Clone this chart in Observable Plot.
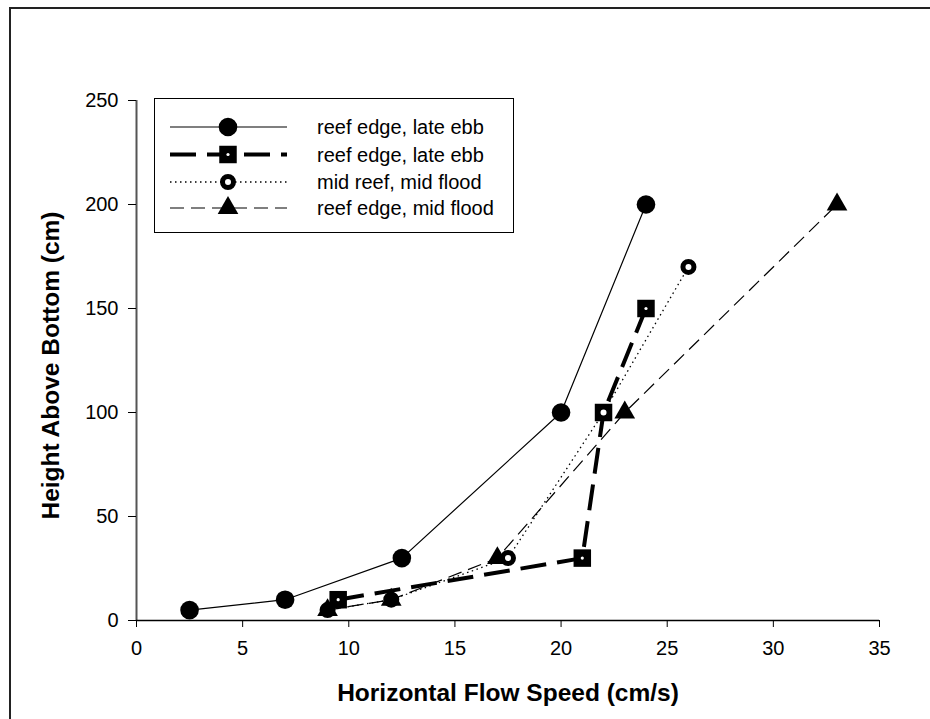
<!DOCTYPE html>
<html><head><meta charset="utf-8">
<script src="https://cdn.jsdelivr.net/npm/d3@7"></script>
<script src="https://cdn.jsdelivr.net/npm/@observablehq/plot@0.6"></script>
<style>
html,body{margin:0;padding:0;background:#fff;overflow:hidden}
#wrap{position:relative;width:930px;height:719px;font-family:"Liberation Sans",Arial,sans-serif}
#frame{position:absolute;left:9px;top:7px;width:1000px;height:1000px;border-left:2px solid #222;border-top:2px solid #222;pointer-events:none}
#legend{position:absolute;left:154px;top:98px}
</style></head><body><div id="wrap"><div id="frame"></div></div>
<script>
// ---- data ----
const xTicks = [0, 5, 10, 15, 20, 25, 30, 35];
const yTicks = [0, 50, 100, 150, 200, 250];
const seriesLabels = ["reef edge, late ebb", "reef edge, late ebb", "mid reef, mid flood", "reef edge, mid flood"];
const edgeLateEbbAX = [2.5, 7, 12.5, 20, 24];
const edgeLateEbbAY = [5, 10, 30, 100, 200];
const edgeLateEbbBX = [9.5, 21, 22, 24];
const edgeLateEbbBY = [10, 30, 100, 150];
const midReefX = [9, 12, 17.5, 22, 26];
const midReefY = [5, 10, 30, 100, 170];
const edgeMidFloodX = [9, 12, 17, 23, 33];
const edgeMidFloodY = [5, 10, 30, 100, 200];
const xTitle = "Horizontal Flow Speed (cm/s)";
const yTitle = "Height Above Bottom (cm)";

// ---- styles ----
const styles = [
  {symbol: "circle", r: 9.3, fill: "black", stroke: "none", sw: 0, lineW: 1.2, dash: null},
  {symbol: "square", r: Math.sqrt(306 / Math.PI), fill: "black", stroke: "none", sw: 0, lineW: 4, dash: "26,11", centerDot: true},
  {symbol: "circle", r: 5.5, fill: "white", stroke: "black", sw: 5, lineW: 1.3, dash: "1.5,3.5"},
  {symbol: "triangle", r: Math.sqrt(185 / Math.PI), fill: "black", stroke: "none", sw: 0, lineW: 1.2, dash: "14,7"}
];
const xs = [edgeLateEbbAX, edgeLateEbbBX, midReefX, edgeMidFloodX];
const ys = [edgeLateEbbAY, edgeLateEbbBY, midReefY, edgeMidFloodY];
const series = xs.map((X, i) => X.map((x, j) => ({x, y: ys[i][j], s: i})));

const lineMarks = series.map((d, i) => Plot.line(d, {
  x: "x", y: "y", stroke: "black", strokeWidth: styles[i].lineW,
  strokeDasharray: styles[i].dash, strokeLinecap: "butt"
}));
const dotMarks = [];
styles.forEach((st, i) => {
  dotMarks.push(Plot.dot(series[i], {
    x: "x", y: "y", symbol: st.symbol, r: st.r, fill: st.fill,
    stroke: st.stroke === "none" ? null : st.stroke, strokeWidth: st.sw
  }));
  if (st.centerDot) dotMarks.push(Plot.dot(series[i], {x: "x", y: "y", r: 1.6, fill: "white"}));
});

const chart = Plot.plot({
  width: 930, height: 719,
  marginLeft: 136, marginRight: 51, marginTop: 100, marginBottom: 99,
  style: {fontFamily: "'Liberation Sans', Arial, sans-serif", fontSize: "20px", background: "transparent", color: "black"},
  x: {domain: [0, 35]},
  y: {domain: [0, 250]},
  marks: [
    Plot.ruleX([0], {stroke: "#555", strokeWidth: 2}),
    Plot.ruleY([0], {stroke: "black", strokeWidth: 1.6}),
    Plot.axisX({ticks: xTicks, tickSize: 7, tickPadding: 13, label: null, stroke: "black"}),
    Plot.axisY({ticks: yTicks, tickSize: 8, tickPadding: 10, label: null, stroke: "black"}),
    ...lineMarks,
    ...dotMarks,
    Plot.text([xTitle], {frameAnchor: "bottom", dy: 72.5, fontWeight: "bold", fontSize: 24.5, textAnchor: "middle", lineAnchor: "middle"}),
    Plot.text([yTitle], {frameAnchor: "left", dx: -85, dy: 5, rotate: -90, fontWeight: "bold", fontSize: 24.5, textAnchor: "middle", lineAnchor: "middle"})
  ]
});
chart.style.position = "absolute";
chart.style.left = "0px";
chart.style.top = "0px";
document.getElementById("wrap").appendChild(chart);

// ---- legend (decoration) ----
const lw = 360, lh = 135;
const lg = d3.select("#wrap").append("svg").attr("id", "legend").attr("width", lw).attr("height", lh)
  .style("font-family", "'Liberation Sans', Arial, sans-serif");
lg.append("rect").attr("x", 0.5).attr("y", 0.5).attr("width", lw - 1).attr("height", lh - 1)
  .attr("fill", "white").attr("stroke", "black").attr("stroke-width", 1);
const rowY = [29, 56.5, 84, 110];
const symType = {circle: d3.symbolCircle, square: d3.symbolSquare, triangle: d3.symbolTriangle};
styles.forEach((st, i) => {
  const g = lg.append("g").attr("transform", `translate(0,${rowY[i]})`);
  g.append("line").attr("x1", 16).attr("x2", 133).attr("y1", 0).attr("y2", 0)
    .attr("stroke", "black").attr("stroke-width", st.lineW).attr("stroke-dasharray", st.dash);
  const size = Math.PI * st.r * st.r;
  g.append("path").attr("transform", "translate(74,0)")
    .attr("d", d3.symbol(symType[st.symbol], size)())
    .attr("fill", st.fill).attr("stroke", st.stroke).attr("stroke-width", st.sw);
  if (st.centerDot) g.append("circle").attr("cx", 74).attr("cy", 0).attr("r", 1.6).attr("fill", "white");
  g.append("text").attr("x", 163).attr("y", 0).attr("dy", "0.35em").attr("font-size", 20).text(seriesLabels[i]);
});
</script></body></html>
